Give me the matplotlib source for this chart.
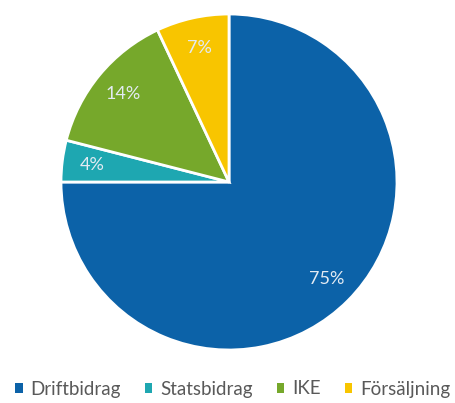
import matplotlib
matplotlib.use("Agg")
import matplotlib.pyplot as plt
from matplotlib.patches import Patch

# data
labels = ["Driftbidrag", "Statsbidrag", "IKE", "Försäljning"]
values = [75, 4, 14, 7]
colors = ["#0c62a8", "#1ea7b1", "#76a82b", "#f8c500"]

plt.rcParams["font.family"] = ["Lato", "DejaVu Sans"]

fig = plt.figure(figsize=(4.56, 4.03), dpi=100)
ax = fig.add_axes([61 / 456, 53 / 403, 336 / 456, 336 / 403])

wedges, texts, autotexts = ax.pie(
    values, colors=colors, startangle=90, counterclock=False,
    autopct="%1.0f%%", pctdistance=0.82,
    wedgeprops=dict(edgecolor="white", linewidth=2),
    textprops=dict(color="#e3ebf3", fontsize=13),
)
ax.set_xlim(-1, 1)
ax.set_ylim(-1, 1)
ax.set_aspect("equal")

handles = [Patch(facecolor=c, edgecolor="none") for c in colors]
fig.legend(handles, labels, loc="center", bbox_to_anchor=(0.51, 1 - 389 / 403),
           ncol=4, frameon=False, fontsize=13.5, handlelength=0.4, handleheight=0.4,
           handletextpad=0.4, columnspacing=1.3, labelcolor="#595959",
           borderpad=0, borderaxespad=0)

fig.savefig("out.png", dpi=100)
